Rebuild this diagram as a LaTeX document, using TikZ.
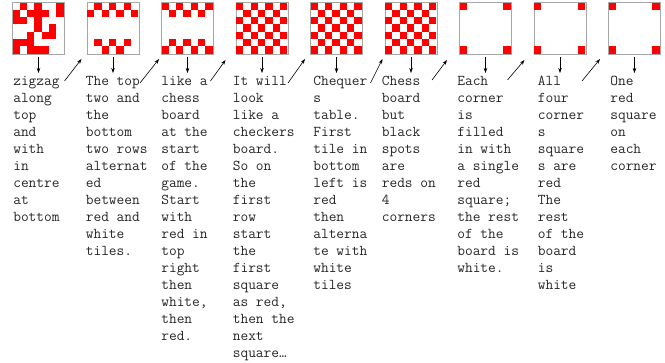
\documentclass[tikz,border=0pt]{standalone}
\usepackage{fontspec}
\usetikzlibrary{arrows.meta,positioning,calc}
\definecolor{tilered}{HTML}{FF0000}
\definecolor{rim}{HTML}{A6A6A6}
\newcommand{\cellw}{7.3pt}
% fill the listed row/col cells of a 7x7 tile
\newcommand{\redcells}[2]{%
  \foreach \r/\c in {#2}
    \fill[tilered] ($(#1.north west)+(\c*\cellw+0.5pt,-\r*\cellw-0.5pt)$) rectangle ++(\cellw,-\cellw);}
\newcommand{\checkcells}[1]{%
  \foreach \r in {0,...,6}
    \foreach \c in {0,...,6} {
      \pgfmathtruncatemacro{\odd}{mod(\r+\c,2)}
      \ifnum\odd=0 \fill[tilered] ($(#1.north west)+(\c*\cellw+0.5pt,-\r*\cellw-0.5pt)$) rectangle ++(\cellw,-\cellw); \fi}}

\begin{document}
\begin{tikzpicture}[>={Stealth[length=5pt,width=3.5pt]}, line width=0.6pt,
  tile/.style={draw=rim, line width=1pt, fill=white, minimum size=52pt, inner sep=0pt},
  note/.style={font=\ttfamily\fontsize{15pt}{17pt}\selectfont, text=black!85, align=left, inner sep=0pt, execute at begin node=\strut}]
  \useasboundingbox (0,0) rectangle (665pt,-362pt);
  \node[tile, anchor=north west] (t1) at (12pt,-2pt) {};
  \node[tile, right=21.5pt of t1] (t2) {};
  \node[tile, right=21.5pt of t2] (t3) {};
  \node[tile, right=21.5pt of t3] (t4) {};
  \node[tile, right=21.5pt of t4] (t5) {};
  \node[tile, right=21.5pt of t5] (t6) {};
  \node[tile, right=21.5pt of t6] (t7) {};
  \node[tile, right=21.5pt of t7] (t8) {};
  \node[tile, right=21.5pt of t8] (t9) {};
  % patterns
  \redcells{t1}{0/1,0/3,0/6,1/0,1/2,1/3,1/4,1/6,2/0,2/1,2/3,3/3,3/5,4/2,4/4,4/5,5/0,5/1,5/2,6/0,6/2,6/3,6/4}
  \redcells{t2}{0/1,0/3,0/5,1/0,1/2,1/4,1/6,5/1,5/3,5/5,6/2,6/4}
  \redcells{t3}{0/0,0/2,0/4,0/6,1/1,1/3,1/5,5/1,5/3,5/5,6/0,6/2,6/4,6/6}
  \checkcells{t4}
  \checkcells{t5}
  \checkcells{t6}
  \redcells{t7}{0/0,0/6,6/0,6/6}
  \redcells{t8}{0/0,0/6,6/0,6/6}
  \redcells{t9}{0/0,0/6,6/0,6/6}
  % descriptions
  \node[note, below=21pt of t1.south west, anchor=north west, xshift=1pt] (n1) {zigzag\\along\\top\\and\\with\\in\\centre\\at\\bottom};
  \node[note, below=21pt of t2.south west, anchor=north west, xshift=-1pt] (n2) {The top\\two and\\the\\bottom\\two rows\\alternat\\ed\\between\\red and\\white\\tiles.};
  \node[note, below=21pt of t3.south west, anchor=north west] (n3) {like a\\chess\\board\\at the\\start\\of the\\game.\\Start\\with\\red in\\top\\right\\then\\white,\\then\\red.};
  \node[note, below=21pt of t4.south west, anchor=north west, xshift=-3pt] (n4) {It will\\look\\like a\\checkers\\board.\\So on\\the\\first\\row\\start\\the\\first\\square\\as red,\\then the\\next\\square…};
  \node[note, below=21pt of t5.south west, anchor=north west, xshift=3pt] (n5) {Chequer\\s\\table.\\First\\tile in\\bottom\\left is\\red\\then\\alterna\\te with\\white\\tiles};
  \node[note, below=21pt of t6.south west, anchor=north west, xshift=-3pt] (n6) {Chess\\board\\but\\black\\spots\\are\\reds on\\4\\corners};
  \node[note, below=21pt of t7.south west, anchor=north west, xshift=-2pt] (n7) {Each\\corner\\is\\filled\\in with\\a single\\red\\square;\\the rest\\of the\\board is\\white.};
  \node[note, below=21pt of t8.south west, anchor=north west, xshift=4pt] (n8) {All\\four\\corner\\s\\square\\s are\\red\\The\\rest\\of the\\board\\is\\white};
  \node[note, below=21pt of t9.south west, anchor=north west, xshift=2pt] (n9) {One\\red\\square\\on\\each\\corner};
  % tile to text
  \foreach \k in {1,...,9}
    \draw[->, shorten <=2pt, shorten >=3pt] (t\k.south) -- (t\k.south |- n\k.north);
  % text to next tile
  \foreach \k/\sx/\sy/\ex/\ey in {2/-22pt/-26pt/-5pt/-4pt, 3/-21pt/-28pt/-2pt/-4pt, 4/-25pt/-26pt/-10pt/-5pt,
      5/-22pt/-28pt/-5pt/-4pt, 6/-14pt/-28pt/-2pt/-4pt, 7/-27pt/-25pt/-12pt/-5pt,
      8/-26pt/-25pt/-9pt/-5pt, 9/-26pt/-26pt/-8pt/-4pt}
    \draw[->] ($(t\k.south west)+(\sx,\sy)$) -- ($(t\k.south west)+(\ex,\ey)$);
\end{tikzpicture}
\end{document}
